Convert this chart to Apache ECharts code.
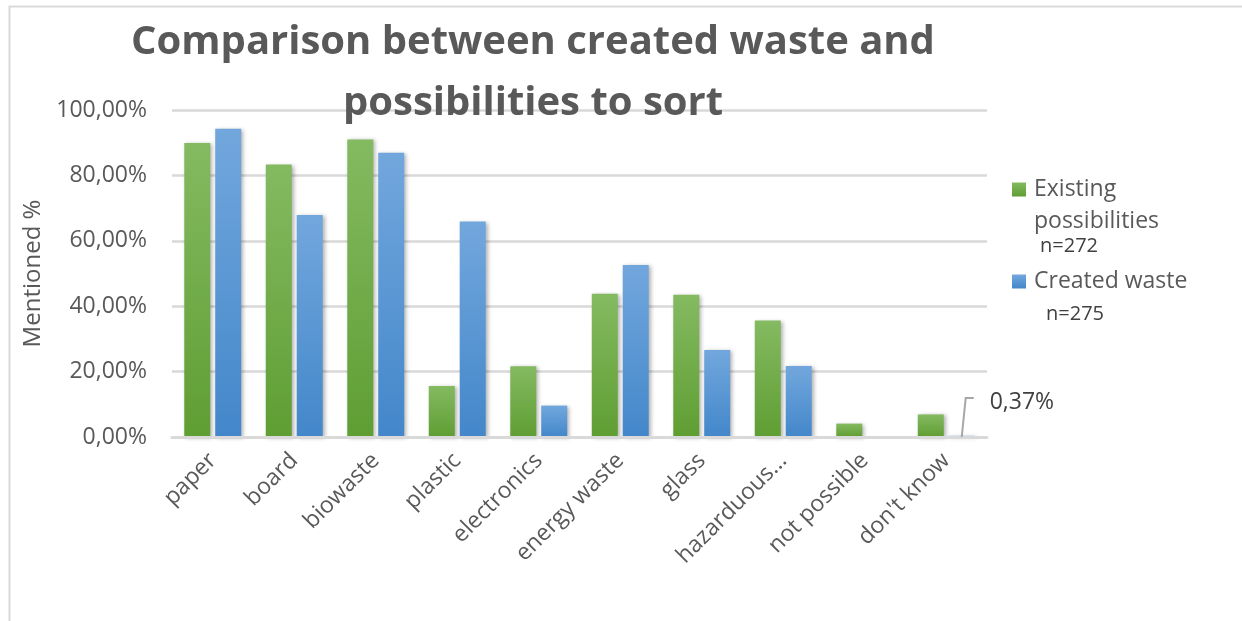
<!DOCTYPE html>
<html>
<head>
<meta charset="utf-8">
<script src="https://cdn.jsdelivr.net/npm/echarts@6/dist/echarts.min.js"></script>
<style>
html,body{margin:0;padding:0;background:#fff;}
#chart{width:1242px;height:621px;}
</style>
</head>
<body>
<div id="chart"></div>
<script>
const categories = ['paper', 'board', 'biowaste', 'plastic', 'electronics', 'energy waste', 'glass', 'hazarduous...', 'not possible', "don't know"];
const existingPossibilities = [89.9, 83.3, 91.0, 15.6, 21.6, 43.8, 43.5, 35.6, 4.1, 6.9];
const createdWaste = [94.3, 67.9, 86.9, 65.9, 9.6, 52.6, 26.6, 21.7, 0, 0.37];
const yTicks = [0, 20, 40, 60, 80, 100];
const nExisting = 'n=272';
const nCreated = 'n=275';

const FONT = 'Open Sans';
const TXT = '#595959';

function fmtPct(v) { return v.toFixed(2).replace('.', ',') + '%'; }

const greenGrad = new echarts.graphic.LinearGradient(0, 0, 0, 1, [
  {offset: 0, color: '#84ba61'}, {offset: 1, color: '#5f9e33'}]);
const blueGrad = new echarts.graphic.LinearGradient(0, 0, 0, 1, [
  {offset: 0, color: '#72a7dd'}, {offset: 1, color: '#4387ca'}]);

const LAST = createdWaste.length - 1;
const createdData = createdWaste.map((v, i) => {
  if (i === LAST) {
    return {value: v, label: {show: true, formatter: p => fmtPct(p.value)}};
  }
  return v;
});

const chart = echarts.init(document.getElementById('chart'));
chart.setOption({
  backgroundColor: '#ffffff',
  textStyle: {fontFamily: FONT},
  graphic: [{
    id: 'border',
    type: 'rect', left: 7, top: 4, z: -1,
    shape: {width: 1260, height: 640},
    style: {fill: 'none', stroke: '#d9d9d9', lineWidth: 2}
  }],
  title: {
    text: 'Comparison between created waste and\npossibilities to sort',
    left: 533, top: 12, padding: 0,
    textAlign: 'center', textVerticalAlign: 'top',
    textStyle: {fontFamily: FONT, fontSize: 40, fontWeight: 'bold', color: TXT, lineHeight: 61}
  },
  legend: [{
    data: ['Existing possibilities'],
    left: 1012, top: 178, padding: 0,
    itemWidth: 14, itemHeight: 14, icon: 'rect',
    formatter: () => '{a|Existing}\n{a|possibilities}\n{n|' + nExisting + '}',
    textStyle: {
      fontFamily: FONT, fontSize: 23, color: TXT, padding: [50, 0, 0, 3],
      rich: {
        a: {fontFamily: FONT, fontSize: 23, lineHeight: 32, color: TXT},
        n: {fontFamily: FONT, fontSize: 20, lineHeight: 18, color: '#404040', padding: [0, 0, 0, 6]}
      }
    }
  }, {
    data: ['Created waste'],
    left: 1012, top: 270, padding: 0,
    itemWidth: 14, itemHeight: 14, icon: 'rect',
    formatter: () => '{a|Created waste}\n{n|' + nCreated + '}',
    textStyle: {
      fontFamily: FONT, fontSize: 23, color: TXT, padding: [34, 0, 0, 3],
      rich: {
        a: {fontFamily: FONT, fontSize: 23, lineHeight: 32, color: TXT},
        n: {fontFamily: FONT, fontSize: 20, lineHeight: 34, color: '#404040', padding: [0, 0, 0, 12]}
      }
    }
  }],
  grid: {left: 172, right: 255, top: 110, bottom: 184, containLabel: false},
  xAxis: {
    type: 'category',
    z: 3,
    data: categories,
    axisTick: {show: false},
    axisLine: {lineStyle: {color: '#d9d9d9', width: 3}},
    axisLabel: {rotate: 45, interval: 0, margin: 20, fontFamily: FONT, fontSize: 23, color: TXT}
  },
  yAxis: {
    type: 'value',
    min: yTicks[0], max: yTicks[yTicks.length - 1], interval: 20,
    name: 'Mentioned %',
    nameLocation: 'middle',
    nameGap: 123,
    nameTextStyle: {fontFamily: FONT, fontSize: 24, color: TXT},
    axisLine: {show: false},
    axisTick: {show: false},
    axisLabel: {margin: 25, fontFamily: FONT, fontSize: 23, color: TXT, formatter: v => fmtPct(v)},
    splitLine: {lineStyle: {color: '#d9d9d9', width: 2.5}}
  },
  series: [{
    name: 'Existing possibilities',
    type: 'bar',
    data: existingPossibilities,
    barWidth: 26,
    barGap: '19%',
    itemStyle: {color: greenGrad, shadowBlur: 4, shadowColor: 'rgba(0,0,0,0.3)', shadowOffsetX: 2, shadowOffsetY: 1}
  }, {
    name: 'Created waste',
    type: 'bar',
    data: createdData,
    barWidth: 26,
    barGap: '19%',
    itemStyle: {color: blueGrad, shadowBlur: 4, shadowColor: 'rgba(0,0,0,0.3)', shadowOffsetX: 2, shadowOffsetY: 1},
    label: {show: false, position: 'top', fontFamily: FONT, fontSize: 23, color: '#404040'},
    labelLine: {show: false},
    labelLayout: function (params) {
      if (params.dataIndex !== LAST) return {};
      const r = params.rect;
      const cx = r.x + r.width / 2;
      const bottom = r.y + r.height;
      return {x: cx + 28, y: bottom - 35, align: 'left', verticalAlign: 'middle'};
    }
  }]
});

// leader line for the small label, positioned from the library's own bar layout
const lay = chart.getModel().getSeriesByIndex(1).getData().getItemLayout(LAST);
const cx = lay.x + lay.width / 2;
const by = lay.y;
chart.setOption({
  graphic: [{
    id: 'leader',
    type: 'polyline', z: 10,
    shape: {points: [[cx, by], [cx + 4, by - 39], [cx + 12, by - 39]]},
    style: {stroke: '#a6a6a6', lineWidth: 2, fill: 'none'}
  }]
});
</script>
</body>
</html>
